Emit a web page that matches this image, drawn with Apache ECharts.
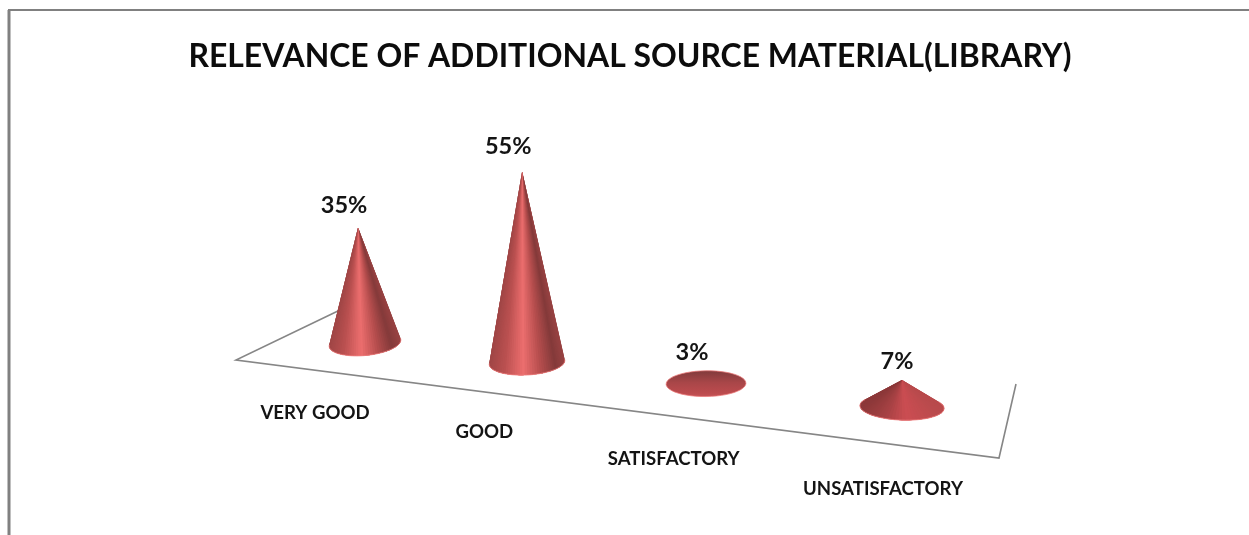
<!DOCTYPE html>
<html><head><meta charset="utf-8">
<style>html,body{margin:0;padding:0;background:#fff}#c{width:1249px;height:535px;filter:blur(0.5px)}</style>
<script src="https://cdn.jsdelivr.net/npm/echarts@6/dist/echarts.min.js"></script>
</head><body><div id="c"></div>
<script>
const categories = ['VERY GOOD', 'GOOD', 'SATISFACTORY', 'UNSATISFACTORY'];
const percentages = [35, 55, 3, 7];
const titleText = 'RELEVANCE OF ADDITIONAL SOURCE MATERIAL(LIBRARY)';
const font = 'Lato, "Open Sans", sans-serif';

const chart = echarts.init(document.getElementById('c'), null, {renderer: 'canvas'});

// Perspective of the tilted floor, applied on top of the axis scales.
const firstX = 365, spanX = 537;
function warpX(x) { return x + 2.65e-4 * (x - 365) * (x - 902); }
function depth(X) { return (X - firstX) / spanX; }

const tallStops = [[0, [160, 70, 70]], [0.2, [186, 80, 80]], [0.45, [236, 110, 110]],
                   [0.68, [182, 78, 78]], [0.88, [132, 58, 58]], [1, [152, 66, 66]]];
const flatStops = [[0, [140, 56, 57]], [0.3, [168, 66, 68]], [0.55, [203, 77, 82]], [1, [184, 74, 76]]];
function shade(stops, s) {
  s = Math.max(0, Math.min(1, s));
  for (let n = 1; n < stops.length; n++) {
    if (s <= stops[n][0]) {
      const a = stops[n - 1], b = stops[n], q = (s - a[0]) / (b[0] - a[0]);
      const c = a[1].map((v, j) => Math.round(v + (b[1][j] - v) * q));
      return 'rgb(' + c.join(',') + ')';
    }
  }
  return 'rgb(' + stops[stops.length - 1][1].join(',') + ')';
}

function renderCone(params, api) {
  const i = api.value(0), v = api.value(1);
  const zero = api.coord([i, 0]), top = api.coord([i, v]);
  const X = warpX(zero[0]);
  const t = depth(X);
  const Y = zero[1] + 0.1192 * (X - firstX);
  const f = 1 + 0.17 * t;
  const h = (zero[1] - top[1]) * f;
  const rx = 36 * f, ry = 12.5 * (1 + 0.05 * t);
  const tilt = -0.097 + 0.133 * t;
  const lean = (X - 902) * 0.013;
  const apex = [X + lean, Y - h];
  const cos = Math.cos(tilt), sin = Math.sin(tilt);
  const toPx = (a) => {
    const ex = rx * Math.cos(a), ey = ry * Math.sin(a);
    return [X + ex * cos - ey * sin, Y + ex * sin + ey * cos];
  };
  // apex in the unit-circle frame of the base ellipse
  const dx = apex[0] - X, dy = apex[1] - Y;
  const ux = (dx * cos + dy * sin) / rx, uy = (-dx * sin + dy * cos) / ry;
  const d = Math.hypot(ux, uy);
  const children = [];
  const steps = 48;
  if (d > 1) {
    const base = Math.atan2(uy, ux), off = Math.acos(1 / d);
    const a0 = base + off, a1 = base - off + 2 * Math.PI;
    const arc = [];
    for (let k = 0; k <= steps; k++) arc.push(toPx(a0 + (a1 - a0) * k / steps));
    const stops = h > 40 ? tallStops : flatStops;
    // Each strip reaches over the next ones, so no seam shows between them.
    for (let k = 0; k < steps; k++) {
      const mid = (arc[k][0] + arc[k + 1][0]) / 2;
      const col = shade(stops, (mid - (X - rx)) / (2 * rx));
      const strip = [apex];
      for (let m = k; m <= Math.min(k + 4, steps); m++) strip.push(arc[m]);
      children.push({type: 'polygon', shape: {points: strip}, style: {fill: col}});
    }
    children.push({type: 'polyline', shape: {points: arc},
      style: {stroke: 'rgba(240,128,128,0.8)', lineWidth: 1, fill: 'none'}});
  } else {
    const pts = [];
    for (let k = 0; k < steps; k++) pts.push(toPx(2 * Math.PI * k / steps));
    children.push({type: 'polygon', shape: {points: pts}, style: {
      fill: new echarts.graphic.LinearGradient(0, 0, 0, 1, [
        {offset: 0, color: '#7f3a3b'}, {offset: 0.45, color: '#a84648'},
        {offset: 0.85, color: '#bc4b4e'}, {offset: 1, color: '#c45458'}]),
      stroke: 'rgba(236,120,120,0.75)', lineWidth: 1}});
  }
  const labelDx = t > 0.9 ? -5 : -14;
  const labelY = (d > 1 ? apex[1] : Y - ry) - (17.5 + h * 0.04);
  children.push({type: 'text', style: {
    text: percentages[i] + '%', x: (d > 1 ? apex[0] : X) + labelDx, y: labelY,
    align: 'center', verticalAlign: 'middle',
    font: '700 23.5px ' + font, fill: '#141414'}});
  children.push({type: 'text', style: {
    text: categories[i], x: X - 50 + 31 * t - (t > 0.3 && t < 0.9 ? 2 : 0),
    y: Y + 70 + 12 * Math.max(0, (t - 0.3) / 0.7),
    align: 'center', verticalAlign: 'middle',
    font: '700 18.6px ' + font, fill: '#141414'}});
  return {type: 'group', children: children};
}

chart.setOption({
  animation: false,
  backgroundColor: '#fff',
  title: {
    text: titleText, left: 625, top: 36, textAlign: 'center',
    textStyle: {fontFamily: font, fontWeight: 700, fontSize: 31.9, color: '#0c0c0c'}
  },
  grid: {left: 275.5, width: 716, top: 145, height: 198},
  xAxis: {type: 'category', data: categories, show: false},
  yAxis: {type: 'value', min: 0, max: 60, show: false},
  graphic: {elements: [
    {type: 'line', z: 0, silent: true, shape: {x1: 9, y1: 10, x2: 9, y2: 535}, style: {stroke: '#808080', lineWidth: 3}},
    {type: 'line', z: 0, silent: true, shape: {x1: 8, y1: 10, x2: 1249, y2: 10}, style: {stroke: '#808080', lineWidth: 2}},
    {type: 'polyline', z: 0, silent: true,
     shape: {points: [[340, 310], [236, 360], [999, 458], [1016, 384]]},
     style: {stroke: '#868686', lineWidth: 1.6, fill: 'none'}}
  ]},
  series: [{
    type: 'custom', coordinateSystem: 'cartesian2d', clip: false,
    renderItem: renderCone,
    encode: {x: 0, y: 1},
    data: percentages.map((v, i) => [i, v])
  }]
});
</script></body></html>
